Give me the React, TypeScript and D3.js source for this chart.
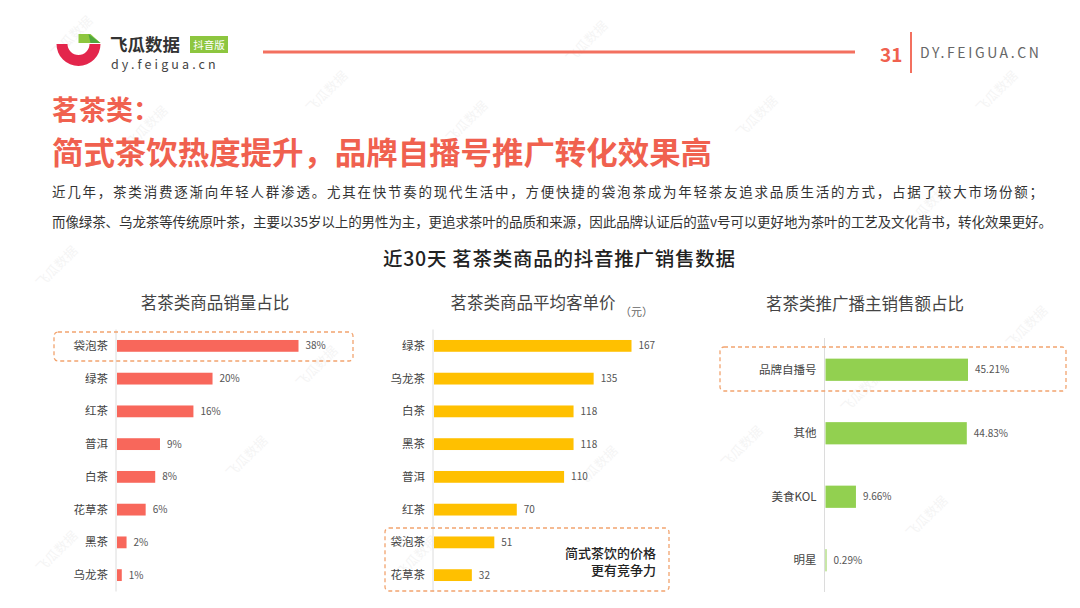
import * as d3 from 'd3';

// chart 1: share of sales volume
const volCats = ['袋泡茶', '绿茶', '红茶', '普洱', '白茶', '花草茶', '黑茶', '乌龙茶'];
const volValues = [38, 20, 16, 9, 8, 6, 2, 1];

// chart 2: average order price (yuan)
const priceCats = ['绿茶', '乌龙茶', '白茶', '黑茶', '普洱', '红茶', '袋泡茶', '花草茶'];
const priceValues = [167, 135, 118, 118, 110, 70, 51, 32];

// chart 3: share of sales by promoter type
const hostCats = ['品牌自播号', '其他', '美食KOL', '明星'];
const hostValues = [45.21, 44.83, 9.66, 0.29];

const FONT = '"Noto Sans CJK SC", "Noto Sans", sans-serif';
const CORAL = '#F0614F';
const DASH = '#F2A46F';

const line1 =
  '近几年，茶类消费逐渐向年轻人群渗透。尤其在快节奏的现代生活中，方便快捷的袋泡茶成为年轻茶友追求品质生活的方式，占据了较大市场份额；';
const line2 =
  '而像绿茶、乌龙茶等传统原叶茶，主要以35岁以上的男性为主，更追求茶叶的品质和来源，因此品牌认证后的蓝v号可以更好地为茶叶的工艺及文化背书，转化效果更好。';

type BarProps = {
  cats: string[];
  values: number[];
  axisX: number;
  y0: number;
  y1: number;
  pad: number;
  maxVal: number;
  maxPx: number;
  color: string;
  fmt: (v: number) => string;
};

const Bars = ({ cats, values, axisX, y0, y1, pad, maxVal, maxPx, color, fmt }: BarProps) => {
  const y = d3
    .scaleBand<string>()
    .domain(cats)
    .range([y0, y1])
    .paddingInner(pad)
    .paddingOuter(pad / 2);
  const x = d3.scaleLinear().domain([0, maxVal]).range([0, maxPx]);
  return (
    <g>
      <line x1={axisX} x2={axisX} y1={y0} y2={y1} stroke="#dcdcdc" strokeWidth={1} />
      {cats.map((c, i) => {
        const yy = y(c)!;
        const w = Math.max(1, x(values[i]));
        const cy = yy + y.bandwidth() / 2;
        return (
          <g key={c + i}>
            <rect x={axisX + 1} y={yy} width={w} height={y.bandwidth()} fill={color} />
            <text x={axisX - 8} y={cy} dy="0.35em" textAnchor="end" fontSize={11.5} fill="#444">
              {c}
            </text>
            <text x={axisX + 1 + w + 7} y={cy} dy="0.35em" fontSize={10} fill="#555">
              {fmt(values[i])}
            </text>
          </g>
        );
      })}
    </g>
  );
};

// faint diagonal watermark positions
const marks = [
  [75, 40], [330, 95], [470, 125], [590, 45], [760, 120], [930, 210],
  [60, 270], [250, 460], [420, 560], [600, 470], [745, 450], [930, 520],
  [60, 555], [320, 370], [865, 395], [1030, 330], [150, 130], [1000, 95],
];

const App = () => {
  const ringArc = d3.arc()({
    innerRadius: 11,
    outerRadius: 22,
    startAngle: Math.PI / 2,
    endAngle: Math.PI * 1.5,
  } as any)!;

  return (
    <div style={{ position: 'absolute', left: 0, top: 0 }}>
      <svg width={1080} height={608} style={{ display: 'block', fontFamily: FONT }}>
        <rect width={1080} height={608} fill="#fff" />

        {marks.map(([mx, my], i) => (
          <text
            key={i}
            transform={`translate(${mx},${my}) rotate(-45)`}
            fontSize={13}
            fill="#000"
            opacity={0.04}
            textAnchor="middle"
          >
            飞瓜数据
          </text>
        ))}

        {/* header logo */}
        <g transform="translate(78.5,44)">
          <path d={ringArc} fill="#E3264C" />
          <path d="M0,-10 L0,-1 L22,-1 L12,-10 Z" fill="#8DC63F" />
          <path d="M10,-10 L22,-1 L12,-1 Z" fill="#4FA83D" />
        </g>
        <text x={110} y={51} fontSize={17.5} fontWeight={700} fill="#333">
          飞瓜数据
        </text>
        <rect x={190} y={36} width={38} height={17} fill="#8DC63F" />
        <text x={209} y={48.5} fontSize={10.5} fill="#fff" textAnchor="middle">
          抖音版
        </text>
        <text x={111} y={69} fontSize={12.5} fill="#444" letterSpacing={3.1}>
          dy.feigua.cn
        </text>
        <rect x={263} y={50.5} width={592} height={3} fill="#F3705F" />
        <text x={880} y={61.5} fontSize={19} fontWeight={700} fill={CORAL}>
          31
        </text>
        <rect x={910} y={32} width={2} height={41} fill="#F3705F" />
        <text x={920} y={58} fontSize={14} fill="#666" letterSpacing={2.6}>
          DY.FEIGUA.CN
        </text>

        {/* headline */}
        <text x={52} y={120} fontSize={27} fontWeight={700} fill={CORAL}>
          茗茶类：
        </text>
        <text x={52} y={164} fontSize={31} fontWeight={700} fill={CORAL} textLength={660} lengthAdjust="spacingAndGlyphs">
          简式茶饮热度提升，品牌自播号推广转化效果高
        </text>
        <text x={52} y={197} fontSize={13.5} fill="#333" textLength={991} lengthAdjust="spacing">
          {line1}
        </text>
        <text x={52} y={227} fontSize={13.5} fill="#333" textLength={1000} lengthAdjust="spacing">
          {line2}
        </text>

        <text x={559} y={266} fontSize={19.5} fontWeight={500} fill="#222" textAnchor="middle" textLength={352} lengthAdjust="spacing">
          近30天 茗茶类商品的抖音推广销售数据
        </text>

        {/* chart titles */}
        <text x={215} y={309} fontSize={16.5} fill="#444" textAnchor="middle">
          茗茶类商品销量占比
        </text>
        <text x={533} y={309} fontSize={16.5} fill="#444" textAnchor="middle">
          茗茶类商品平均客单价
        </text>
        <text x={620} y={316} fontSize={11} fill="#666">
          （元）
        </text>
        <text x={865} y={310} fontSize={16.5} fill="#444" textAnchor="middle">
          茗茶类推广播主销售额占比
        </text>

        {/* chart 1 */}
        <Bars
          cats={volCats}
          values={volValues}
          axisX={116}
          y0={329.5}
          y1={591.5}
          pad={0.64}
          maxVal={38}
          maxPx={181.5}
          color="#F8675B"
          fmt={(v) => `${v}%`}
        />
        <rect x={54} y={332} width={299} height={29} rx={4} fill="none" stroke={DASH} strokeWidth={1.3} strokeDasharray="4,3" />

        {/* chart 2 */}
        <Bars
          cats={priceCats}
          values={priceValues}
          axisX={433}
          y0={329.5}
          y1={591.5}
          pad={0.64}
          maxVal={167}
          maxPx={197.5}
          color="#FFC000"
          fmt={(v) => `${v}`}
        />
        <rect x={385} y={528} width={284} height={63} rx={4} fill="none" stroke={DASH} strokeWidth={1.3} strokeDasharray="4,3" />
        <text x={656} y={558} fontSize={13} fontWeight={500} fill="#222" textAnchor="end">
          简式茶饮的价格
        </text>
        <text x={656} y={575} fontSize={13} fontWeight={500} fill="#222" textAnchor="end">
          更有竞争力
        </text>

        {/* chart 3 */}
        <Bars
          cats={hostCats}
          values={hostValues}
          axisX={824.5}
          y0={338}
          y1={592}
          pad={0.65}
          maxVal={45.21}
          maxPx={142.5}
          color="#92D050"
          fmt={(v) => `${v.toFixed(2)}%`}
        />
        <rect x={720} y={347} width={346} height={44} rx={4} fill="none" stroke={DASH} strokeWidth={1.3} strokeDasharray="4,3" />
      </svg>
    </div>
  );
};

export default App;
